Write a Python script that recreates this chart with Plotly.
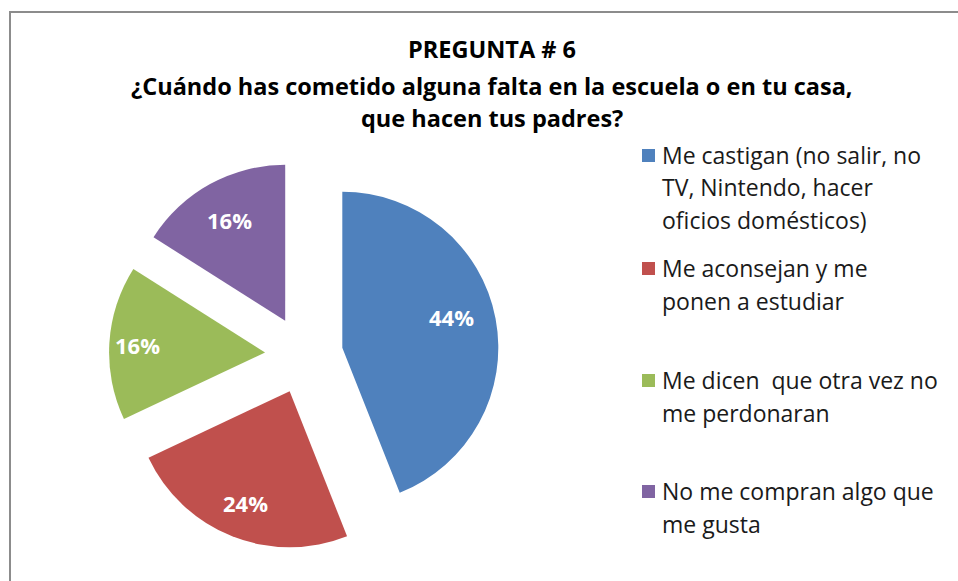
import math
import plotly.graph_objects as go

# datos
categorias = [
    "Me castigan (no salir, no TV, Nintendo, hacer oficios domésticos)",
    "Me aconsejan y me ponen a estudiar",
    "Me dicen  que otra vez no me perdonaran",
    "No me compran algo que me gusta",
]
valores = [44, 24, 16, 16]
colores = ["#4F81BD", "#C0504D", "#9BBB59", "#8064A2"]
# lineas de la leyenda, tal como aparecen envueltas
leyenda_lineas = [
    ["Me castigan (no salir, no", "TV, Nintendo, hacer", "oficios domésticos)"],
    ["Me aconsejan y me", "ponen a estudiar"],
    ["Me dicen  que otra vez no", "me perdonaran"],
    ["No me compran algo que", "me gusta"],
]
titulo = ["PREGUNTA # 6",
          "¿Cuándo has cometido alguna falta en la escuela o en tu casa,",
          "que hacen tus padres?"]

W, H = 958, 581
FONT = "Open Sans"
PULL = 0.25
DOM_X = (109, 499)   # caja del pastel en pixeles
DOM_Y = (160, 550)
LABEL_R = [0.73, 0.77, 0.82, 0.74]  # distancia de la etiqueta desde el vertice
LABEL_DA = [-5, 0, 0, 0]             # ajuste angular (grados)

def px(x):
    return x / W

def py(y):
    return 1 - y / H

fig = go.Figure()
fig.add_trace(go.Pie(
    labels=categorias, values=valores, sort=False, direction="clockwise",
    marker=dict(colors=colores, line=dict(width=0)),
    pull=[PULL] * len(valores),
    textinfo="none",
    domain=dict(x=[px(DOM_X[0]), px(DOM_X[1])], y=[py(DOM_Y[1]), py(DOM_Y[0])]),
    showlegend=False, hoverinfo="label+percent",
))

ann = []

# etiquetas de porcentaje sobre cada sector
cx = (DOM_X[0] + DOM_X[1]) / 2
cy = (DOM_Y[0] + DOM_Y[1]) / 2
r = min(DOM_X[1] - DOM_X[0], DOM_Y[1] - DOM_Y[0]) / (2 + 2 * PULL)
total = sum(valores)
acum = 0
for v, lr, da in zip(valores, LABEL_R, LABEL_DA):
    mid = (acum + v / 2) / total * 2 * math.pi
    acum += v
    dx, dy = math.sin(mid), -math.cos(mid)
    ax = cx + dx * r * PULL
    ay = cy + dy * r * PULL
    lm = mid + math.radians(da)
    lx, ly = math.sin(lm), -math.cos(lm)
    ann.append(dict(text=f"{v / total:.0%}", x=px(ax + lx * r * lr), y=py(ay + ly * r * lr),
                    xref="paper", yref="paper", xanchor="center", yanchor="middle",
                    showarrow=False,
                    font=dict(family=FONT, size=22, color="white", weight="bold")))

title_y = [49, 86, 118]
for t, y in zip(titulo, title_y):
    ann.append(dict(text=t, x=px(492), y=py(y), xref="paper", yref="paper",
                    xanchor="center", yanchor="middle", showarrow=False,
                    font=dict(family=FONT, size=23.5, color="black", weight="bold")))

shapes = []
item_y = [155, 268, 380, 491]
for lines, y0, c in zip(leyenda_lineas, item_y, colores):
    shapes.append(dict(type="rect", xref="paper", yref="paper",
                       x0=px(642), x1=px(655), y0=py(y0 - 6), y1=py(y0 + 7),
                       fillcolor=c, line=dict(width=0)))
    for i, ln in enumerate(lines):
        ann.append(dict(text=ln, x=px(660), y=py(y0 + i * 32.5), xref="paper",
                        yref="paper", xanchor="left", yanchor="middle",
                        showarrow=False,
                        font=dict(family=FONT, size=23, color="#1a1a1a")))

# borde del area del grafico
shapes.append(dict(type="rect", xref="paper", yref="paper",
                   x0=px(10), x1=px(1200), y0=py(12), y1=py(900),
                   line=dict(color="#8c8c8c", width=2), fillcolor="rgba(0,0,0,0)"))

fig.update_layout(
    width=W, height=H, margin=dict(l=0, r=0, t=0, b=0),
    paper_bgcolor="white", plot_bgcolor="white",
    annotations=ann, shapes=shapes,
)
fig.write_html("out.html", config={"displayModeBar": False},
               post_script="document.body.style.margin='0';document.body.style.overflow='hidden';")
